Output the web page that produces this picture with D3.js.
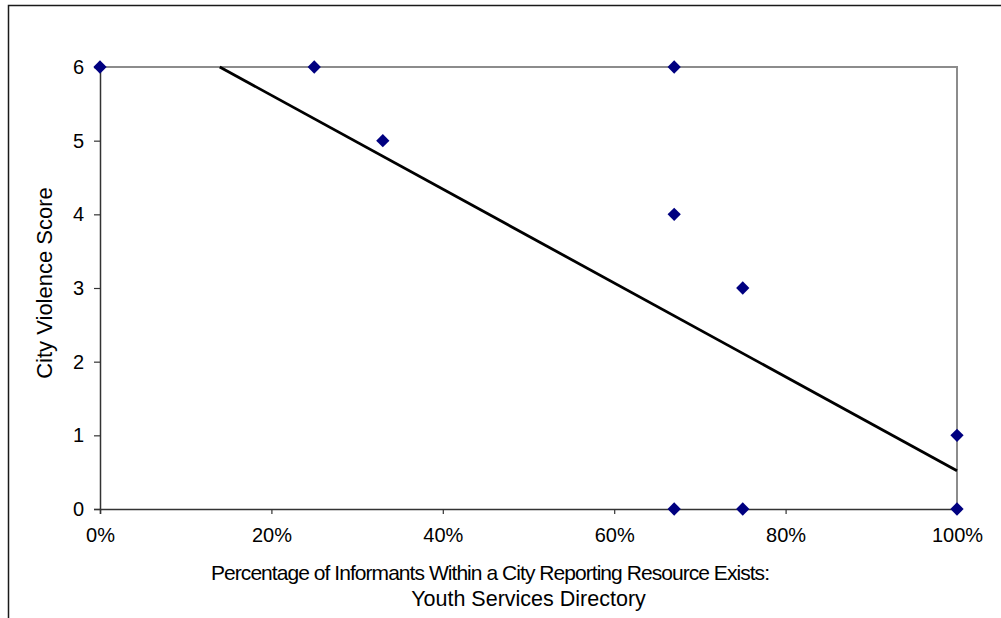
<!DOCTYPE html>
<html>
<head>
<meta charset="utf-8">
<script src="https://cdn.jsdelivr.net/npm/d3@7"></script>
<style>
  html, body { margin: 0; padding: 0; background: #fff; }
  svg { display: block; font-family: "Liberation Sans", Arial, sans-serif; }
</style>
</head>
<body>
<svg id="chart" width="1001" height="618"></svg>
<script>
// Share of informants reporting a youth services directory, per city
const sharePct = [0, 0.25, 0.33, 0.67, 0.67, 0.75, 0.67, 0.75, 1.0, 1.0];
// City violence score for the same cities
const violenceScore = [6, 6, 5, 6, 4, 3, 0, 0, 1, 0];
// Linear trendline (score = intercept + slope * share)
const trendIntercept = 6.89;
const trendSlope = -6.37;
// Axis ticks
const xTicks = [0, 0.2, 0.4, 0.6, 0.8, 1.0];
const yTicks = [0, 1, 2, 3, 4, 5, 6];
const xTitle = ["Percentage of Informants Within a City Reporting Resource Exists:", "Youth Services Directory"];
const yTitle = "City Violence Score";

const svg = d3.select("#chart");
const plot = { left: 100, right: 957, top: 67, bottom: 509 };

const x = d3.scaleLinear().domain([0, 1]).range([plot.left, plot.right]);
const y = d3.scaleLinear().domain([0, 6]).range([plot.bottom, plot.top]);

// Outer chart frame
svg.append("rect")
  .attr("x", 8.5).attr("y", 5.5)
  .attr("width", 1000).attr("height", 700)
  .attr("fill", "none").attr("stroke", "#1a1a1a").attr("stroke-width", 1.5);

// Plot area: grey top/right edges
svg.append("path")
  .attr("d", `M${plot.left},${plot.top}H${plot.right}V${plot.bottom}`)
  .attr("fill", "none").attr("stroke", "#8c8c8c").attr("stroke-width", 2);

// Y axis
const yAxis = d3.axisLeft(y).tickValues(yTicks).tickSize(6).tickPadding(10).tickFormat(d3.format("d"));
const gy = svg.append("g").attr("transform", `translate(${plot.left},0)`).call(yAxis);
gy.select(".domain").attr("stroke", "#333").attr("stroke-width", 1.5);
gy.selectAll(".tick line").attr("stroke", "#333").attr("stroke-width", 1.2);
gy.selectAll(".tick text").attr("font-size", 20).attr("fill", "#000")
  .attr("font-family", "Liberation Sans, Arial, sans-serif");

// X axis
const xAxis = d3.axisBottom(x).tickValues(xTicks).tickSize(5).tickPadding(14).tickFormat(d3.format(".0%"));
const gx = svg.append("g").attr("transform", `translate(0,${plot.bottom})`).call(xAxis);
gx.select(".domain").attr("stroke", "#333").attr("stroke-width", 1.5);
gx.selectAll(".tick line").attr("stroke", "#333").attr("stroke-width", 1.2);
gx.selectAll(".tick text").attr("font-size", 20).attr("fill", "#000")
  .attr("font-family", "Liberation Sans, Arial, sans-serif");

// Trendline, clipped to the plotted score range
const xAtTop = (6 - trendIntercept) / trendSlope;
const trendPts = [xAtTop, 1].map(s => [x(s), y(trendIntercept + trendSlope * s)]);
svg.append("path")
  .attr("d", d3.line()(trendPts))
  .attr("fill", "none").attr("stroke", "#000").attr("stroke-width", 2.8);

// Data markers (diamonds)
const diamond = d3.symbol().type(d3.symbolDiamond2).size(112);
svg.append("g").selectAll("path")
  .data(sharePct.map((s, i) => ({ s, v: violenceScore[i] })))
  .join("path")
  .attr("transform", d => `translate(${x(d.s)},${y(d.v)})`)
  .attr("d", diamond)
  .attr("fill", "#000080");

// Axis titles
svg.append("text")
  .attr("transform", `translate(52,${(plot.top + plot.bottom) / 2 - 5}) rotate(-90)`)
  .attr("text-anchor", "middle")
  .attr("font-size", 22)
  .text(yTitle);

svg.append("text")
  .attr("x", 211).attr("y", 580)
  .attr("text-anchor", "start").attr("font-size", 21)
  .attr("textLength", 559).attr("lengthAdjust", "spacing")
  .text(xTitle[0]);
svg.append("text")
  .attr("x", (plot.left + plot.right) / 2).attr("y", 606)
  .attr("text-anchor", "middle").attr("font-size", 21.5)
  .text(xTitle[1]);
</script>
</body>
</html>
